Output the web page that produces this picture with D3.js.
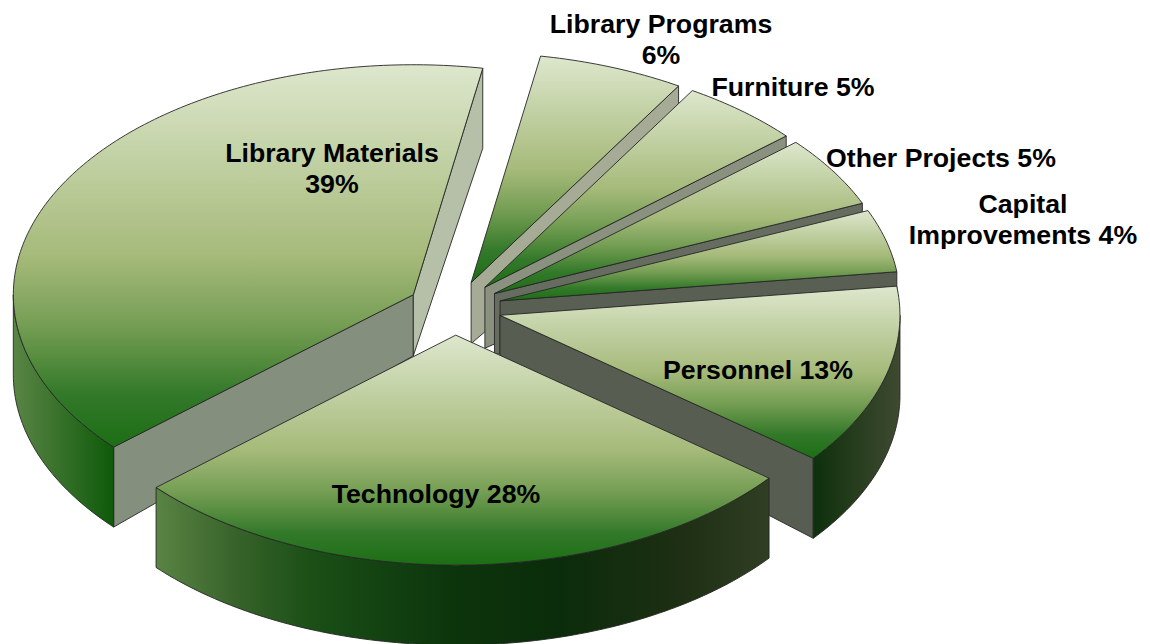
<!DOCTYPE html>
<html>
<head>
<meta charset="utf-8">
<script src="https://cdn.jsdelivr.net/npm/d3@7"></script>
<style>
  html, body { margin: 0; background: #fff; }
  text { font-family: "Liberation Sans", Arial, sans-serif; font-weight: bold; font-size: 26.7px; fill: #000; text-anchor: middle; }
</style>
</head>
<body>
<div id="chart"></div>
<script>
// slices clockwise from the first one at the back
const categories = ["Library Programs", "Furniture", "Other Projects", "Capital Improvements", "Personnel", "Technology", "Library Materials"];
const shares = [5.9, 4.9, 5.0, 4.4, 12.7, 27.8, 39.3];

// label lines, same order as categories
const labelLines = [
    ["Library Programs", "6%"],
    ["Furniture 5%"],
    ["Other Projects 5%"],
    ["Capital", "Improvements 4%"],
    ["Personnel 13%"],
    ["Technology 28%"],
    ["Library Materials", "39%"]
];

const width = 1150, height = 644;
const cx = 454.5, cy = 308, rx = 400, ry = 230;
const explode = 0.118;
const rimDepth = 80, apexDepth = 61;

// where the label sits: [centre x, first baseline]
const labelPos = [[661, 33], [793, 96], [941, 167], [1023, 213], [758, 379], [436, 503], [332, 162]];
const lineStep = 30.5;

// cut wall greys, [start edge, end edge]
const wallFill = [
    [null, "#a5ab95"], [null, "#8a917f"], [null, "#666c5f"], [null, "#5a5f53"],
    [null, "#585d52"], [null, null], ["#858f7e", "#b6c0a8"]
];
// outer wall colours, left to right across each slice
const sideStops = [
    null, null, null, null,
    [[0, "#0e300c"], [1, "#3f4a30"]],
    [[0, "#5a8444"], [0.12, "#3a652c"], [0.255, "#1a4f16"], [0.49, "#0c340c"], [0.66, "#0b2c0a"], [0.86, "#1e2f14"], [1, "#303f24"]],
    [[0, "#5a8545"], [1, "#0e5a0a"]]
];
const topStops = [[0, "#dde7cd"], [0.5, "#a6ba7a"], [0.68, "#759e54"], [0.77, "#558c3e"], [0.86, "#33792a"], [1, "#1c6e14"]];

const svg = d3.select("#chart").append("svg")
    .attr("width", width)
    .attr("height", height);
const defs = svg.append("defs");

const xScale = d3.scaleLinear().domain([-1, 1]).range([-rx, rx]);
const yScale = d3.scaleLinear().domain([-1, 1]).range([-ry, ry]);

const pie = d3.pie().sort(null)
    .startAngle(10 * Math.PI / 180)
    .endAngle(370 * Math.PI / 180);
const arcs = pie(shares);

// point on the ellipse, r = 1 is the rim
function project(angle, r) {
    return [xScale(Math.sin(angle) * r), yScale(-Math.cos(angle) * r)];
}

function rimPoints(a0, a1, ox, oy, dy) {
    const n = Math.max(2, Math.ceil((a1 - a0) * 60));
    return d3.range(n + 1).map(i => {
        const a = a0 + (a1 - a0) * i / n;
        const p = project(a, 1);
        return [ox + p[0], oy + p[1] + dy];
    });
}

const line = d3.line();

function addGradient(id, x1, y1, x2, y2, stops) {
    const g = defs.append("linearGradient")
        .attr("id", id)
        .attr("gradientUnits", "userSpaceOnUse")
        .attr("x1", x1).attr("y1", y1)
        .attr("x2", x2).attr("y2", y2);
    stops.forEach(s => {
        g.append("stop").attr("offset", s[0]).attr("stop-color", s[1]);
    });
}

function outline(sel) {
    return sel.attr("stroke", "#262626").attr("stroke-width", 0.9).attr("stroke-linejoin", "round");
}

// painter's order: back slices first, technology last
const drawOrder = [0, 1, 2, 3, 4, 6, 5];

drawOrder.forEach(i => {
    const d = arcs[i];
    const mid = (d.startAngle + d.endAngle) / 2;
    const off = project(mid, explode);
    const ox = cx + off[0], oy = cy + off[1];
    const g = svg.append("g").attr("class", "slice");

    // cut walls
    [[d.startAngle, 0], [d.endAngle, 1]].forEach(([a, k]) => {
        if (!wallFill[i][k]) return;
        const p = project(a, 1);
        outline(g.append("path"))
            .attr("fill", wallFill[i][k])
            .attr("d", line([[ox, oy], [ox + p[0], oy + p[1]], [ox + p[0], oy + p[1] + rimDepth], [ox, oy + apexDepth]]) + "Z");
    });

    // outer wall, only the part of the rim that faces us
    const a0 = Math.max(d.startAngle, Math.PI / 2);
    const a1 = Math.min(d.endAngle, Math.PI * 1.5);
    if (sideStops[i] && a1 > a0) {
        const top = rimPoints(a0, a1, ox, oy, 0);
        const bottom = rimPoints(a0, a1, ox, oy, rimDepth).reverse();
        const xs = d3.extent(top, p => p[0]);
        // rim runs right to left on the front, gradient is left to right
        addGradient("side" + i, xs[0], 0, xs[1], 0, sideStops[i]);
        outline(g.append("path"))
            .attr("fill", "url(#side" + i + ")")
            .attr("d", line(top.concat(bottom)) + "Z");
    }

    // top face
    const rim = rimPoints(d.startAngle, d.endAngle, ox, oy, 0);
    const pts = [[ox, oy]].concat(rim);
    const ys = d3.extent(pts, p => p[1]);
    addGradient("top" + i, 0, ys[0], 0, ys[1], topStops);
    outline(g.append("path"))
        .attr("fill", "url(#top" + i + ")")
        .attr("d", line(pts) + "Z");
});

// labels
labelLines.forEach((lines, i) => {
    const t = svg.append("text").attr("class", "label");
    lines.forEach((s, j) => {
        t.append("tspan")
            .attr("x", labelPos[i][0])
            .attr("y", labelPos[i][1] + j * lineStep)
            .text(s);
    });
});
</script>
</body>
</html>
